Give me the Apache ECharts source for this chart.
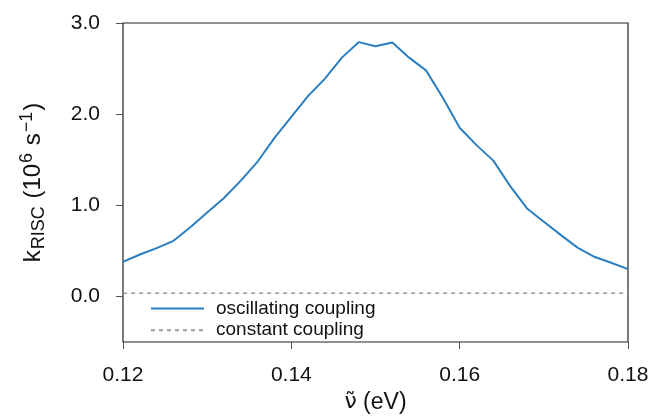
<!DOCTYPE html>
<html>
<head>
<meta charset="utf-8">
<script src="https://cdn.jsdelivr.net/npm/echarts@6/dist/echarts.min.js"></script>
<style>
  html, body { margin: 0; padding: 0; background: #fff; }
  #chart { width: 654px; height: 420px; }
</style>
</head>
<body>
<div id="chart"></div>
<script>
// energies (eV), sampled every 0.002
const energies = [0.120, 0.122, 0.124, 0.126, 0.128, 0.130, 0.132, 0.134, 0.136, 0.138,
  0.140, 0.142, 0.144, 0.146, 0.148, 0.150, 0.152, 0.154, 0.156, 0.158,
  0.160, 0.162, 0.164, 0.166, 0.168, 0.170, 0.172, 0.174, 0.176, 0.178, 0.180];
// k_RISC with oscillating coupling (10^6 s^-1)
const oscillating = [0.38, 0.46, 0.53, 0.61, 0.76, 0.92, 1.08, 1.27, 1.48, 1.74,
  1.97, 2.20, 2.39, 2.62, 2.79, 2.745, 2.785, 2.62, 2.48, 2.18,
  1.85, 1.66, 1.49, 1.21, 0.965, 0.82, 0.675, 0.535, 0.435, 0.37, 0.30];
// k_RISC with constant coupling
const constantRange = [0.12, 0.18];
const constantValue = 0.035;

const xTicks = [0.12, 0.14, 0.16, 0.18];
const yTicks = [0.0, 1.0, 2.0, 3.0];

const chart = echarts.init(document.getElementById("chart"));

const option = {
  animation: false,
  textStyle: { fontFamily: "Liberation Sans, Arial, sans-serif" },
  grid: {
    left: 123,
    right: 26,
    top: 23,
    bottom: 78,
    show: true,
    borderColor: "#222",
    borderWidth: 1.2,
  },
  legend: {
    orient: "vertical",
    left: 150,
    top: 299,
    padding: 0,
    itemWidth: 53,
    itemHeight: 14,
    itemGap: 2.7,
    itemStyle: { opacity: 0 },
    textStyle: { fontSize: 19, lineHeight: 14, color: "#111", padding: [0, 0, 0, 7] },
    data: ["oscillating coupling", "constant coupling"],
  },
  xAxis: {
    type: "value",
    min: 0.12,
    max: 0.18,
    axisLine: { show: false, onZero: false },
    splitLine: { show: false },
    axisTick: {
      show: true,
      length: 7,
      customValues: xTicks,
      lineStyle: { color: "#555" },
    },
    axisLabel: {
      customValues: xTicks,
      fontSize: 21,
      color: "#111",
      margin: 23,
      formatter: (v) => v.toFixed(2),
    },
    name: "{nu|ν\u0303} (eV)",
    nameLocation: "middle",
    nameGap: 47,
    nameTextStyle: {
      fontSize: 23,
      color: "#111",
      rich: {
        nu: { fontFamily: "DejaVu Sans, sans-serif", fontSize: 22, color: "#111" },
      },
    },
  },
  yAxis: {
    type: "value",
    min: -0.5,
    max: 3.0,
    axisLine: { show: false, onZero: false },
    splitLine: { show: false },
    axisTick: {
      show: true,
      length: 7,
      customValues: yTicks,
      lineStyle: { color: "#555" },
    },
    axisLabel: {
      customValues: yTicks,
      fontSize: 21,
      color: "#111",
      margin: 23,
      formatter: (v) => v.toFixed(1),
    },
    name: "k{sub|RISC} (10{sup|6} s{sup|−1})",
    nameLocation: "middle",
    nameRotate: 90,
    nameGap: 75,
    nameTextStyle: {
      fontSize: 24,
      color: "#111",
      rich: {
        sub: { fontSize: 18, color: "#111", verticalAlign: "bottom", padding: [12, 1, 0, 1] },
        sup: { fontSize: 18, color: "#111", verticalAlign: "top", padding: [0, 1, 12, 1] },
      },
    },
  },
  series: [
    {
      name: "oscillating coupling",
      type: "line",
      data: energies.map((x, i) => [x, oscillating[i]]),
      showSymbol: false,
      symbol: "none",
      lineStyle: { color: "#2b7fc0", width: 2 },
      itemStyle: { color: "#2b7fc0" },
      z: 3,
    },
    {
      name: "constant coupling",
      type: "line",
      data: constantRange.map((x) => [x, constantValue]),
      showSymbol: false,
      symbol: "none",
      lineStyle: { color: "#999", width: 1.5, type: [4, 4] },
      itemStyle: { color: "#999" },
      z: 2,
    },
  ],
};

chart.setOption(option);
window.addEventListener("resize", () => chart.resize());
</script>
</body>
</html>
